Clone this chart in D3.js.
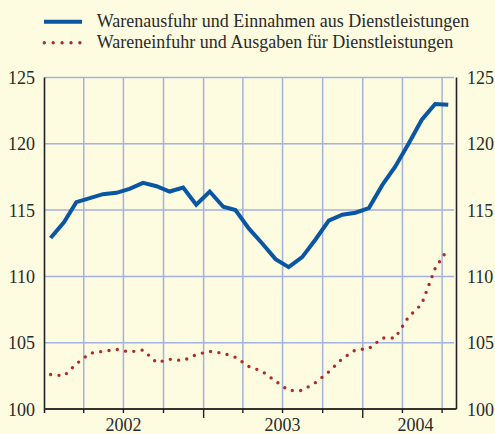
<!DOCTYPE html>
<html><head><meta charset="utf-8">
<script src="https://cdn.jsdelivr.net/npm/d3@7/dist/d3.min.js"></script>
<style>
html,body{margin:0;padding:0;background:#fdfbe0;}
svg{display:block;}
text{font-family:"Liberation Serif","Times New Roman",serif;fill:#2a2a2a;}
</style></head>
<body>
<svg id="c" width="495" height="434"></svg>
<script>
const months = [
 "2002-01","2002-02","2002-03","2002-04","2002-05","2002-06","2002-07","2002-08","2002-09","2002-10","2002-11","2002-12",
 "2003-01","2003-02","2003-03","2003-04","2003-05","2003-06","2003-07","2003-08","2003-09","2003-10","2003-11","2003-12",
 "2004-01","2004-02","2004-03","2004-04","2004-05","2004-06","2004-07"];
const exportsSeries = [112.9,114.1,115.6,115.9,116.2,116.3,116.6,117.05,116.8,116.4,116.7,115.4,
 116.4,115.25,115.0,113.6,112.5,111.3,110.7,111.45,112.8,114.2,114.65,114.8,
 115.15,116.9,118.25,120.0,121.8,123.0,122.95];
const importsSeries = [102.6,102.5,103.4,104.2,104.35,104.5,104.3,104.45,103.5,103.75,103.65,104.1,
 104.35,104.2,103.9,103.2,102.85,102.1,101.4,101.4,102.0,102.8,103.8,104.45,
 104.55,105.35,105.35,106.95,107.9,110.6,112.1];
const yTicks = [100,105,110,115,120,125];
const yearLabels = ["2002","2003","2004"];
const yearLabelDates = ["2002-07-01","2003-07-01","2004-05-01"];
const legendLabels = ["Warenausfuhr und Einnahmen aus Dienstleistungen","Wareneinfuhr und Ausgaben für Dienstleistungen"];

(function(){
const parse = d3.timeParse("%Y-%m-%d");
const svg = d3.select("#c");
const pL = 44.5, pR = 456.5, pT = 77.5, pB = 409;
const x = d3.scaleTime().domain([parse("2002-01-01"), parse("2004-08-03")]).range([pL, pR]);
const y = d3.scaleLinear().domain([100,125]).range([pB, pT]);
const gridColor = "#a3b2e0";

const quarters = d3.timeMonth.every(3).range(parse("2002-04-01"), parse("2004-08-01"));
svg.append("g").selectAll("line").data(quarters).join("line")
  .attr("x1", d=>x(d)).attr("x2", d=>x(d)).attr("y1", pT).attr("y2", pB)
  .attr("stroke", gridColor).attr("stroke-width", 1.5);
svg.append("g").selectAll("line").data(yTicks.filter(v=>v>100)).join("line")
  .attr("x1", pL).attr("x2", pR-2.5).attr("y1", d=>y(d)).attr("y2", d=>y(d))
  .attr("stroke", gridColor).attr("stroke-width", 1.5);

svg.append("line").attr("x1", pL).attr("x2", pL).attr("y1", pT).attr("y2", pB+4).attr("stroke","#222").attr("stroke-width",1.6);
svg.append("line").attr("x1", pR).attr("x2", pR).attr("y1", pT).attr("y2", pB).attr("stroke","#222").attr("stroke-width",1.6);
svg.append("line").attr("x1", pL).attr("x2", pR).attr("y1", pB).attr("y2", pB).attr("stroke","#333").attr("stroke-width",2);
svg.append("g").selectAll("line").data(quarters).join("line")
  .attr("x1", d=>x(d)).attr("x2", d=>x(d)).attr("y1", pB)
  .attr("y2", d=> d.getMonth()===0 ? pB+9 : pB+4)
  .attr("stroke","#222").attr("stroke-width",1.4);

svg.append("g").selectAll("text").data(yTicks).join("text")
  .attr("x", 35).attr("y", d=>y(d)+6.5).attr("text-anchor","end").attr("font-size",18).text(d=>d);
svg.append("g").selectAll("text").data(yTicks).join("text")
  .attr("x", 467).attr("y", d=>y(d)+6.5).attr("text-anchor","start").attr("font-size",18).text(d=>d);
svg.append("g").selectAll("text").data(yearLabels).join("text")
  .attr("x", (d,i)=>x(parse(yearLabelDates[i]))).attr("y", 430.5).attr("text-anchor","middle").attr("font-size",18).text(d=>d);

const pts = s => s.map((v,i)=>({d: parse(months[i]+"-15"), v}));
const line = d3.line().x(p=>x(p.d)).y(p=>y(p.v));

svg.append("path").attr("d", line(pts(importsSeries))).attr("fill","none")
  .attr("stroke","#ad2b2b").attr("stroke-width",3.4).attr("stroke-linecap","round").attr("stroke-dasharray","0 8.4");
svg.append("path").attr("d", line(pts(exportsSeries))).attr("fill","none")
  .attr("stroke","#0a56a3").attr("stroke-width",4).attr("stroke-linejoin","miter");

svg.append("line").attr("x1",44).attr("x2",82).attr("y1",21.7).attr("y2",21.7).attr("stroke","#0a56a3").attr("stroke-width",4);
svg.append("line").attr("x1",44.3).attr("x2",81).attr("y1",42.7).attr("y2",42.7).attr("stroke","#ad2b2b")
  .attr("stroke-width",3.4).attr("stroke-linecap","round").attr("stroke-dasharray","0 8.9");
svg.append("g").selectAll("text").data(legendLabels).join("text")
  .attr("x",96.7).attr("y",(d,i)=>27.3+i*21).attr("font-size",18).text(d=>d);
})();
</script>
</body></html>
